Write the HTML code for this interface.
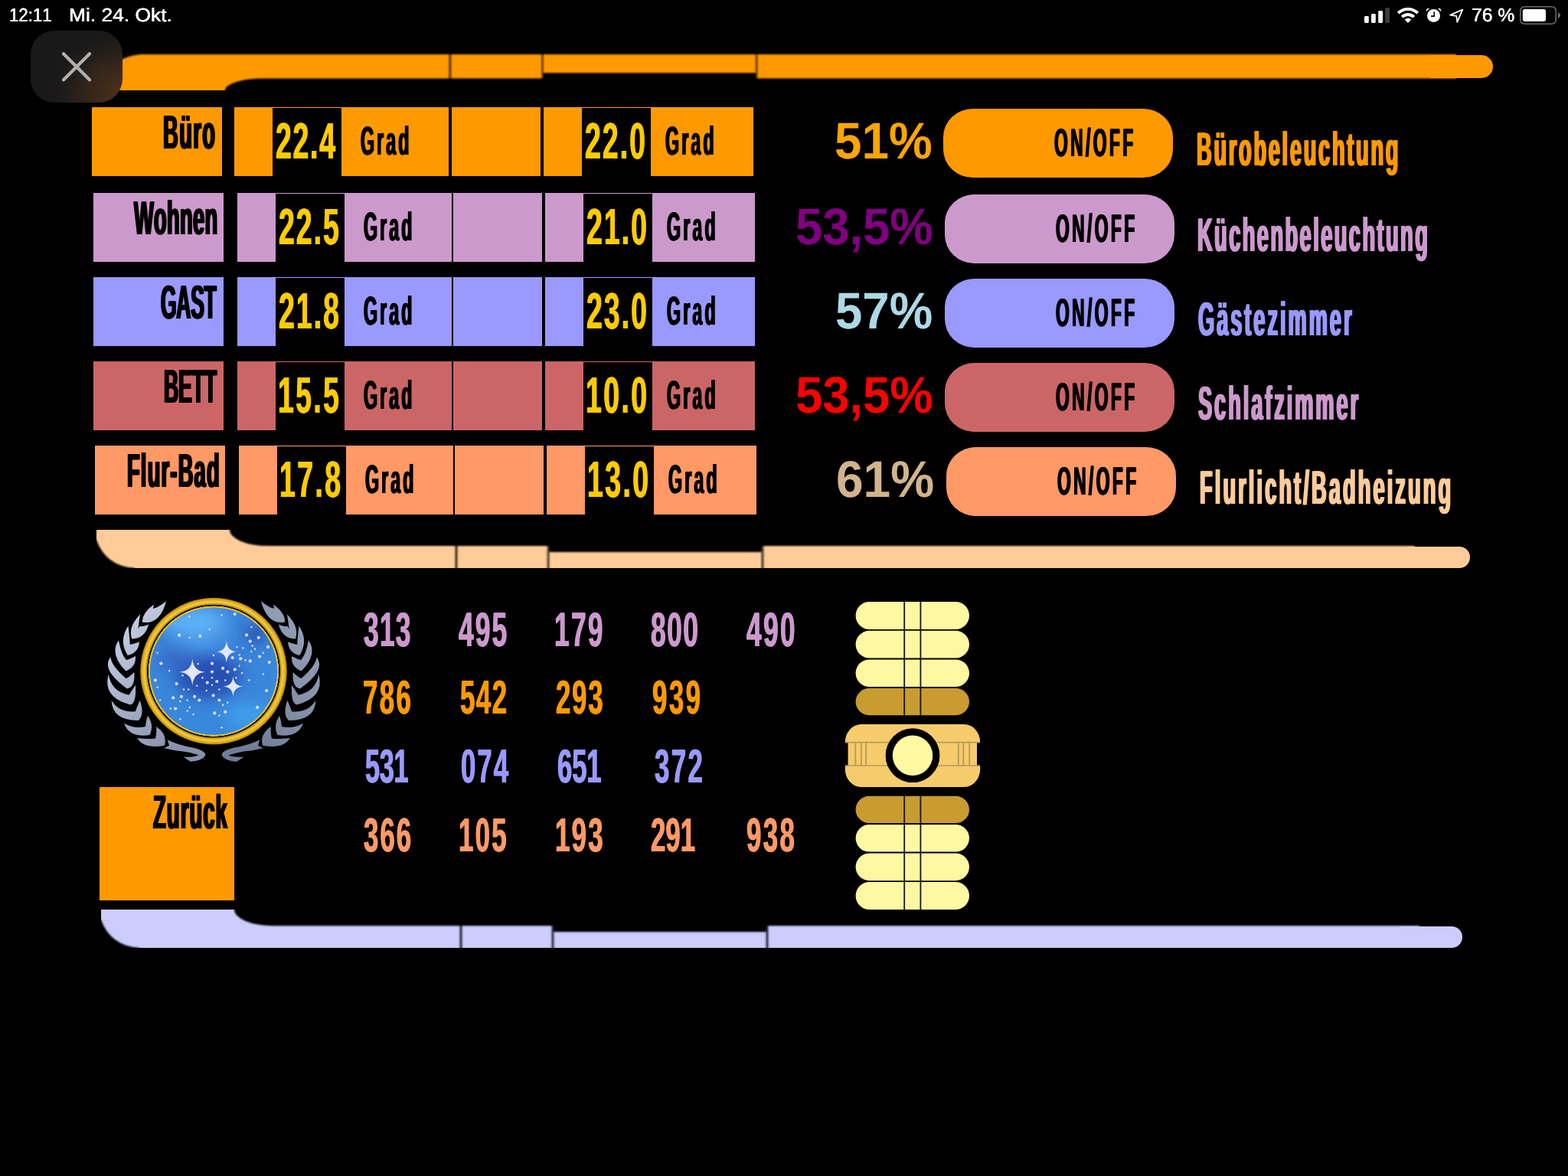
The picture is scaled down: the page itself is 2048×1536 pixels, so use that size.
<!DOCTYPE html>
<html lang="de"><head><meta charset="utf-8"><title>LCARS Haussteuerung</title>
<style>
html,body{margin:0;padding:0;background:#000}
body{width:2048px;height:1536px;position:relative;overflow:hidden;font-family:"Liberation Sans",sans-serif}
.b{position:absolute}
#tx{position:absolute;left:0;top:0;width:2048px;height:1536px;will-change:transform}
.t{position:absolute;white-space:nowrap;line-height:1;font-weight:bold;transform-origin:0 0;font-kerning:none;font-variant-ligatures:none;text-rendering:geometricPrecision}
.t.r{font-weight:normal}
svg{position:absolute;left:0;top:0;overflow:visible}
#close{position:absolute;left:40px;top:40px;width:120px;height:94px;border-radius:31px;background:radial-gradient(ellipse 95px 80px at 102% 88%,#50321a 0%,#3a281a 40%,#241e1a 75%,#191919 100%)}
</style></head>
<body>
<svg width="2048" height="1536" viewBox="0 0 2048 1536">
<defs><filter id="soft" x="-2%" y="-20%" width="104%" height="140%"><feGaussianBlur stdDeviation="0.8"/></filter></defs>
<clipPath id="c0"><rect x="134" y="66" width="2048" height="52"/></clipPath>
<g clip-path="url(#c0)"><g filter="url(#soft)"><path d="M130 122 L294 122 L294 118 A50 15.6 0 0 1 344 102.4 L586 102.4 L586 71 L184 71 Q146 73.8 134 107.8 L130 107.8 Z" fill="#ff9900"/><rect x="586" y="71" width="3.4" height="31.4" fill="#472b00"/><rect x="707.2" y="71" width="2.6" height="31.4" fill="#472b00"/><rect x="986.8" y="71" width="2.7" height="31.4" fill="#472b00"/><rect x="589.4" y="71" width="117.8" height="31.4" fill="#ff9900"/><rect x="709.8" y="71" width="277" height="24.2" fill="#ff9900"/><rect x="989.5" y="71" width="912.5" height="31.4" fill="#ff9900"/></g></g>
<path d="M1867.7 72 H1935 A15 15 0 0 1 1935 102 H1867.7 Z" fill="#ff9900"/>
<clipPath id="c1"><rect x="126" y="692" width="2048" height="50"/></clipPath>
<g clip-path="url(#c1)"><g filter="url(#soft)"><path d="M122 688 L300 688 L300 692 A50 21.1 0 0 0 350 713.1 L594.4 713.1 L594.4 746 L176 746 L176 742 Q138 739.2 126 705.2 L122 705.2 Z" fill="#ffcc99"/><rect x="594.4" y="713.1" width="3.4" height="32.9" fill="#3d2f20"/><rect x="714.5" y="713.1" width="3.2" height="32.9" fill="#3d2f20"/><rect x="994.3" y="713.1" width="3.3" height="32.9" fill="#3d2f20"/><rect x="597.8" y="713.1" width="116.7" height="32.9" fill="#ffcc99"/><rect x="717.7" y="721.1" width="276.6" height="24.9" fill="#ffcc99"/><rect x="997.6" y="713.1" width="850.4" height="32.9" fill="#ffcc99"/></g></g>
<path d="M1837.6 714 H1906 A14 14 0 0 1 1906 742 H1837.6 Z" fill="#ffcc99"/>
<clipPath id="c2"><rect x="132" y="1188" width="2048" height="50"/></clipPath>
<g clip-path="url(#c2)"><g filter="url(#soft)"><path d="M128 1184 L306 1184 L306 1188 A50 21.2 0 0 0 356 1209.2 L600.5 1209.2 L600.5 1242 L182 1242 L182 1238 Q144 1235.2 132 1201.2 L128 1201.2 Z" fill="#ccccff"/><rect x="600.5" y="1209.2" width="3.4" height="32.8" fill="#1e1e2a"/><rect x="720.2" y="1209.2" width="3.4" height="32.8" fill="#1e1e2a"/><rect x="1000.3" y="1209.2" width="3.5" height="32.8" fill="#1e1e2a"/><rect x="603.9" y="1209.2" width="116.3" height="32.8" fill="#ccccff"/><rect x="723.6" y="1217.2" width="276.7" height="24.8" fill="#ccccff"/><rect x="1003.8" y="1209.2" width="850.2" height="32.8" fill="#ccccff"/></g></g>
<path d="M1827.8 1210 H1896 A14 14 0 0 1 1896 1238 H1827.8 Z" fill="#ccccff"/>
</svg>
<div class="b" style="left:120px;top:140px;width:170px;height:90px;background:#ff9900"></div>
<div class="b" style="left:306px;top:140px;width:280px;height:90px;background:#ff9900"></div>
<div class="b" style="left:356px;top:141px;width:90px;height:89px;background:#000"></div>
<div class="b" style="left:590px;top:140px;width:116px;height:90px;background:#ff9900"></div>
<div class="b" style="left:710px;top:140px;width:274px;height:90px;background:#ff9900"></div>
<div class="b" style="left:760px;top:141px;width:90px;height:89px;background:#000"></div>
<div class="b" style="left:1232px;top:142px;width:300px;height:90px;background:#ff9900;border-radius:39px/37px"></div>
<div class="b" style="left:122px;top:252px;width:170px;height:90px;background:#cc99cc"></div>
<div class="b" style="left:310px;top:252px;width:280px;height:90px;background:#cc99cc"></div>
<div class="b" style="left:360px;top:253px;width:90px;height:89px;background:#000"></div>
<div class="b" style="left:592px;top:252px;width:116px;height:90px;background:#cc99cc"></div>
<div class="b" style="left:712px;top:252px;width:274px;height:90px;background:#cc99cc"></div>
<div class="b" style="left:762px;top:253px;width:90px;height:89px;background:#000"></div>
<div class="b" style="left:1234px;top:254px;width:300px;height:90px;background:#cc99cc;border-radius:39px/37px"></div>
<div class="b" style="left:122px;top:362px;width:170px;height:90px;background:#9999ff"></div>
<div class="b" style="left:310px;top:362px;width:280px;height:90px;background:#9999ff"></div>
<div class="b" style="left:360px;top:363px;width:90px;height:89px;background:#000"></div>
<div class="b" style="left:592px;top:362px;width:116px;height:90px;background:#9999ff"></div>
<div class="b" style="left:712px;top:362px;width:274px;height:90px;background:#9999ff"></div>
<div class="b" style="left:762px;top:363px;width:90px;height:89px;background:#000"></div>
<div class="b" style="left:1234px;top:364px;width:300px;height:90px;background:#9999ff;border-radius:39px/37px"></div>
<div class="b" style="left:122px;top:472px;width:170px;height:90px;background:#cc6666"></div>
<div class="b" style="left:310px;top:472px;width:280px;height:90px;background:#cc6666"></div>
<div class="b" style="left:360px;top:473px;width:90px;height:89px;background:#000"></div>
<div class="b" style="left:592px;top:472px;width:116px;height:90px;background:#cc6666"></div>
<div class="b" style="left:712px;top:472px;width:274px;height:90px;background:#cc6666"></div>
<div class="b" style="left:762px;top:473px;width:90px;height:89px;background:#000"></div>
<div class="b" style="left:1234px;top:474px;width:300px;height:90px;background:#cc6666;border-radius:39px/37px"></div>
<div class="b" style="left:124px;top:582px;width:170px;height:90px;background:#ff9966"></div>
<div class="b" style="left:312px;top:582px;width:280px;height:90px;background:#ff9966"></div>
<div class="b" style="left:362px;top:583px;width:90px;height:89px;background:#000"></div>
<div class="b" style="left:594px;top:582px;width:116px;height:90px;background:#ff9966"></div>
<div class="b" style="left:714px;top:582px;width:274px;height:90px;background:#ff9966"></div>
<div class="b" style="left:764px;top:583px;width:90px;height:89px;background:#000"></div>
<div class="b" style="left:1236px;top:584px;width:300px;height:90px;background:#ff9966;border-radius:39px/37px"></div>
<div class="b" style="left:130px;top:1028px;width:176px;height:148px;background:#ff9900"></div>
<svg width="2048" height="1536" viewBox="0 0 2048 1536">
<defs><linearGradient id="lfL" x1="0" y1="0" x2="0.6" y2="1"><stop offset="0" stop-color="#d3daee"/><stop offset="0.5" stop-color="#a9b3cb"/><stop offset="1" stop-color="#8690aa"/></linearGradient><linearGradient id="lfR" x1="1" y1="0" x2="0.4" y2="1"><stop offset="0" stop-color="#9aa4bd"/><stop offset="0.5" stop-color="#8792ab"/><stop offset="1" stop-color="#717c96"/></linearGradient><radialGradient id="gold" cx="279" cy="876.6" r="96" gradientUnits="userSpaceOnUse"><stop offset="0.868" stop-color="#e9c534"/><stop offset="0.885" stop-color="#e0b828"/><stop offset="0.888" stop-color="#1a1200"/><stop offset="0.902" stop-color="#1a1200"/><stop offset="0.908" stop-color="#b98c12"/><stop offset="0.94" stop-color="#f4cf3a"/><stop offset="0.97" stop-color="#e3b01f"/><stop offset="1" stop-color="#a87a0a"/></radialGradient><radialGradient id="sky" cx="262" cy="820" r="150" gradientUnits="userSpaceOnUse"><stop offset="0" stop-color="#52a2ee"/><stop offset="0.35" stop-color="#3a82d9"/><stop offset="1" stop-color="#388ade"/></radialGradient><clipPath id="disc"><circle cx="279" cy="876.6" r="83.2"/></clipPath><filter id="bl" x="-50%" y="-50%" width="200%" height="200%"><feGaussianBlur stdDeviation="9"/></filter></defs>
<path d="M201.1 789.5Q185.3 800.6 185.9 812.5Q208.5 816.8 217.1 785.2Q204.6 795.1 198.8 794.9Q194.4 816.3 201.1 789.5ZM183.1 802.3Q166.7 819.1 172.2 834.4Q189.4 834.4 194.1 815.6Q185 819.4 182.3 817.6Q178.7 829.8 183.1 802.3ZM167.5 817.6Q154.6 836.7 166.7 855.9Q181 852.9 182 838.3Q173.9 841.6 169.5 841.8Q170.2 840.3 167.5 817.6ZM155 836.3Q142.5 854.5 164.4 876.6Q178.4 870.7 176.9 857Q169.5 861.1 164.8 862.1Q157.9 853.9 155 836.3ZM144.5 858.2Q131.4 874.3 165.9 899.5Q176.9 897.7 175.3 878.1Q168.1 885.4 164.4 885.9Q145.1 869.2 144.5 858.2ZM141.7 880.8Q133.5 910.9 170.6 920.6Q178.4 917.9 176.9 894.8Q170.1 905.3 168.3 907.7Q145.6 903.4 141.7 880.8ZM145.6 914.8Q146.8 941.5 180.8 940.9Q189.2 933.7 182.7 914.8Q178.2 925.2 176.9 929.2Q155.4 931.2 145.6 914.8ZM162 944.8Q168.7 963.8 195.6 960.1Q201.7 947 192.9 934.7Q190.1 944.1 190.2 949.1Q175.1 952.3 162 944.8ZM179.2 964Q188 978.6 214.8 973.8Q219.3 959.5 204.2 949.1Q204.7 959.5 203 964.4Q194.9 966 179.2 964ZM218.7 966.3Q231.6 973 251.9 976.5Q268.3 980.2 268.3 986.2Q265.2 993.3 248.8 994.8L239.4 988.6Q251.9 989.4 259.7 986.6Q247.2 981.6 230 980.4L214.4 977.3L221 973.8Z" fill="url(#lfL)"/>
<path d="M356.9 789.5Q372.7 800.6 372.1 812.5Q349.5 816.8 340.9 785.2Q353.4 795.1 359.2 794.9Q363.6 816.3 356.9 789.5ZM374.9 802.3Q391.3 819.1 385.8 834.4Q368.6 834.4 363.9 815.6Q373 819.4 375.7 817.6Q379.3 829.8 374.9 802.3ZM390.5 817.6Q403.4 836.7 391.3 855.9Q377 852.9 376 838.3Q384.1 841.6 388.5 841.8Q387.8 840.3 390.5 817.6ZM403 836.3Q415.5 854.5 393.6 876.6Q379.6 870.7 381.1 857Q388.5 861.1 393.2 862.1Q400.1 853.9 403 836.3ZM413.5 858.2Q426.6 874.3 392.1 899.5Q381.1 897.7 382.7 878.1Q389.9 885.4 393.6 885.9Q412.9 869.2 413.5 858.2ZM416.3 880.8Q424.5 910.9 387.4 920.6Q379.6 917.9 381.1 894.8Q387.9 905.3 389.7 907.7Q412.4 903.4 416.3 880.8ZM412.4 914.8Q411.2 941.5 377.2 940.9Q368.8 933.7 375.3 914.8Q379.8 925.2 381.1 929.2Q402.6 931.2 412.4 914.8ZM396 944.8Q389.3 963.8 362.4 960.1Q356.3 947 365.1 934.7Q367.9 944.1 367.8 949.1Q382.9 952.3 396 944.8ZM378.8 964Q370 978.6 343.2 973.8Q338.7 959.5 353.8 949.1Q353.3 959.5 355 964.4Q363.1 966 378.8 964ZM339.3 966.3Q326.4 973 306.1 976.5Q289.7 980.2 289.7 986.2Q292.8 993.3 309.2 994.8L318.6 988.6Q306.1 989.4 298.3 986.6Q310.8 981.6 328 980.4L343.6 977.3L337 973.8Z" fill="url(#lfR)"/>
<circle cx="279" cy="876.6" r="95.8" fill="url(#gold)"/>
<circle cx="279" cy="876.6" r="83.2" fill="url(#sky)"/>
<g clip-path="url(#disc)"><g filter="url(#bl)"><ellipse cx="272" cy="884" rx="42" ry="28" fill="#2650b4"/><ellipse cx="232" cy="862" rx="26" ry="12" fill="#3568c8"/><ellipse cx="334" cy="828" rx="13" ry="10" fill="#2646a6"/><ellipse cx="250" cy="812" rx="40" ry="14" fill="#5cb2f6"/><ellipse cx="325" cy="935" rx="30" ry="16" fill="#3f9eec"/></g></g>
<g fill="#dcdcf4"><circle cx="234.1" cy="829.7" r="2.1"/><circle cx="261.4" cy="830.9" r="2.1"/><circle cx="306.7" cy="874.4" r="2.1"/><circle cx="277" cy="877.5" r="2.1"/><circle cx="283.3" cy="890" r="2.1"/><circle cx="278.6" cy="908.3" r="2.1"/><circle cx="260.3" cy="914.5" r="2.1"/><circle cx="294.2" cy="929.8" r="2.1"/><circle cx="226.2" cy="911.4" r="2.1"/><circle cx="350" cy="845" r="2.1"/><circle cx="339.2" cy="857.5" r="2.1"/><circle cx="351.7" cy="865" r="2.1"/><circle cx="348.1" cy="902" r="2.1"/><circle cx="202.8" cy="888.4" r="2.1"/><circle cx="210.3" cy="866.6" r="2.1"/><circle cx="291.1" cy="872.8" r="2.1"/><circle cx="326.7" cy="837.5" r="2.1"/><circle cx="322" cy="829.4" r="2.1"/><circle cx="270.8" cy="891.6" r="2.1"/><circle cx="236.9" cy="909.8" r="2.1"/><circle cx="254.1" cy="909.8" r="2.1"/><circle cx="314.2" cy="860.3" r="2.1"/><circle cx="303.6" cy="859.1" r="2.1"/><circle cx="297.3" cy="877.5" r="2.1"/><circle cx="277" cy="866.6" r="2.1"/><circle cx="337.7" cy="832.8" r="2.1"/><circle cx="326.7" cy="863.4" r="2.1"/><circle cx="230.6" cy="893.1" r="2.1"/><circle cx="286.4" cy="914.5" r="2.1"/><circle cx="280.2" cy="931.4" r="2.1"/><circle cx="229.1" cy="925.5" r="2.1"/><circle cx="336.1" cy="923.9" r="2.1"/><circle cx="306.7" cy="802" r="2.1"/><circle cx="247.3" cy="805.2" r="1.25"/><circle cx="289.5" cy="803.3" r="1.25"/><circle cx="273.9" cy="821.9" r="1.25"/><circle cx="328.3" cy="818.9" r="1.25"/><circle cx="247.8" cy="832.8" r="1.25"/><circle cx="329.8" cy="843.4" r="1.25"/><circle cx="333" cy="847.8" r="1.25"/><circle cx="309.5" cy="845" r="1.25"/><circle cx="317.3" cy="846.6" r="1.25"/><circle cx="328.3" cy="850.9" r="1.25"/><circle cx="343.9" cy="852.8" r="1.25"/><circle cx="205.6" cy="852.8" r="1.25"/><circle cx="278.9" cy="855.9" r="1.25"/><circle cx="320.5" cy="862.2" r="1.25"/><circle cx="312.7" cy="855.6" r="1.25"/><circle cx="258.6" cy="866.9" r="1.25"/><circle cx="312.7" cy="869.7" r="1.25"/><circle cx="316.1" cy="879.1" r="1.25"/><circle cx="221.2" cy="875.9" r="1.25"/><circle cx="238.4" cy="882.2" r="1.25"/><circle cx="264.5" cy="885.3" r="1.25"/><circle cx="277" cy="885.3" r="1.25"/><circle cx="294.2" cy="888.4" r="1.25"/><circle cx="308.3" cy="885.3" r="1.25"/><circle cx="325.2" cy="888.4" r="1.25"/><circle cx="343.9" cy="880.6" r="1.25"/><circle cx="205.6" cy="897.8" r="1.25"/><circle cx="257.2" cy="895.8" r="1.25"/><circle cx="277" cy="894.7" r="1.25"/><circle cx="240" cy="900.5" r="1.25"/><circle cx="246.2" cy="900.5" r="1.25"/><circle cx="269.7" cy="902" r="1.25"/><circle cx="286.4" cy="900.5" r="1.25"/><circle cx="209.1" cy="914.5" r="1.25"/><circle cx="235.3" cy="916.1" r="1.25"/><circle cx="244.7" cy="914.5" r="1.25"/><circle cx="297.3" cy="917.7" r="1.25"/><circle cx="291.1" cy="920.8" r="1.25"/><circle cx="222.8" cy="925.5" r="1.25"/><circle cx="247.8" cy="923.9" r="1.25"/><circle cx="244.7" cy="928.6" r="1.25"/><circle cx="252.5" cy="933" r="1.25"/><circle cx="286.4" cy="934.5" r="1.25"/><circle cx="235.3" cy="939.2" r="1.25"/><circle cx="289.5" cy="950.2" r="1.25"/></g>
<path d="M251.3 860.2C252.2 871.5 257.6 876.9 268.7 877.8C257.6 878.7 252.2 884.1 251.3 895.4C250.4 884.1 245 878.7 233.9 877.8C245 876.9 250.4 871.5 251.3 860.2ZM295.9 836.7C296.5 846 300.6 850.6 308.9 851.3C300.6 852 296.5 856.6 295.9 865.9C295.2 856.6 291.2 852 282.9 851.3C291.2 850.6 295.2 846 295.9 836.7ZM304.5 883.4C305.2 891.8 309.3 895.9 317.8 896.6C309.3 897.3 305.2 901.4 304.5 909.8C303.8 901.4 299.7 897.3 291.2 896.6C299.7 895.9 303.8 891.8 304.5 883.4Z" fill="#e6e6fa"/>
</svg>
<svg width="2048" height="1536" viewBox="0 0 2048 1536">
<rect x="1117.6" y="786" width="148.4" height="36" rx="18" fill="#fff8a3"/>
<rect x="1117.6" y="823.8" width="148.4" height="35.8" rx="17.9" fill="#fff8a3"/>
<rect x="1117.6" y="861.4" width="148.4" height="35.6" rx="17.8" fill="#fff8a3"/>
<rect x="1117.6" y="899" width="148.4" height="35.2" rx="17.6" fill="#c99c31"/>
<rect x="1117.6" y="1039.8" width="148.4" height="35.2" rx="17.6" fill="#c99c31"/>
<rect x="1117.6" y="1077" width="148.4" height="35.6" rx="17.8" fill="#fff8a3"/>
<rect x="1117.6" y="1114.4" width="148.4" height="35.8" rx="17.9" fill="#fff8a3"/>
<rect x="1117.6" y="1152" width="148.4" height="36" rx="18" fill="#fff8a3"/>
<rect x="1180.3" y="786" width="1.8" height="148.2" fill="#1a1405"/>
<rect x="1201.5" y="786" width="1.8" height="148.2" fill="#1a1405"/>
<rect x="1180.3" y="1039.8" width="1.8" height="148.2" fill="#1a1405"/>
<rect x="1201.5" y="1039.8" width="1.8" height="148.2" fill="#1a1405"/>
<path d="M1103.8 969.6 A21 23.6 0 0 1 1124.8 946 H1259.2 A21 23.6 0 0 1 1280.2 969.6 H1276 V1000.2 H1280.2 V1004.4 A21 23.6 0 0 1 1259.2 1028 H1124.8 A21 23.6 0 0 1 1103.8 1004.4 V1000.2 H1107.6 V969.6 Z" fill="#f6cb6b"/>
<path d="M1104 969.6 H1280 M1104 1000 H1280" stroke="#b59b5b" stroke-width="1.6" fill="none"/>
<rect x="1116.35" y="970" width="1.9" height="30" fill="#b89d5c"/>
<rect x="1123.95" y="970" width="1.9" height="30" fill="#b89d5c"/>
<rect x="1130.15" y="970" width="1.9" height="30" fill="#b89d5c"/>
<rect x="1250.85" y="970" width="1.9" height="30" fill="#b89d5c"/>
<rect x="1257.35" y="970" width="1.9" height="30" fill="#b89d5c"/>
<rect x="1265.25" y="970" width="1.9" height="30" fill="#b89d5c"/>
<circle cx="1192" cy="986.7" r="35.4" fill="#000"/>
<circle cx="1192" cy="986.7" r="26.2" fill="#fffaa2"/>
</svg>
<div id="tx">
<span class="t" style="left:213.47px;top:143px;font-size:62.06px;transform:scaleX(0.44);color:#000;letter-spacing:3.24px;text-shadow:2.27px 0,-2.27px 0">Büro</span>
<span class="t" style="left:360.15px;top:152px;font-size:66.76px;transform:scaleX(0.56);color:#ffcc00;letter-spacing:3.11px;text-shadow:0.8px 0,-0.8px 0">22.4</span>
<span class="t" style="left:470.65px;top:159px;font-size:52.62px;transform:scaleX(0.44);color:#000;letter-spacing:7.08px;text-shadow:1.59px 0,-1.59px 0">Grad</span>
<span class="t" style="left:764.15px;top:152px;font-size:66.76px;transform:scaleX(0.56);color:#ffcc00;letter-spacing:3.67px;text-shadow:0.8px 0,-0.8px 0">22.0</span>
<span class="t" style="left:868.75px;top:159px;font-size:52.62px;transform:scaleX(0.44);color:#000;letter-spacing:7.23px;text-shadow:1.59px 0,-1.59px 0">Grad</span>
<span class="t" style="left:1089.74px;top:151px;font-size:67.29px;transform:scaleX(0.9471);color:#ffa500">51%</span>
<span class="t" style="left:1376.97px;top:161px;font-size:51.74px;transform:scaleX(0.44);color:#000;letter-spacing:7.8px;text-shadow:1.59px 0,-1.59px 0">ON/OFF</span>
<span class="t" style="left:1562.58px;top:165px;font-size:61.92px;transform:scaleX(0.44);color:#ff9900;letter-spacing:6.16px;text-shadow:2.27px 0,-2.27px 0">Bürobeleuchtung</span>
<span class="t" style="left:174.77px;top:255px;font-size:62.06px;transform:scaleX(0.44);color:#000;letter-spacing:0.74px;text-shadow:2.27px 0,-2.27px 0">Wohnen</span>
<span class="t" style="left:364.15px;top:264px;font-size:66.76px;transform:scaleX(0.56);color:#ffcc00;letter-spacing:3.61px;text-shadow:0.8px 0,-0.8px 0">22.5</span>
<span class="t" style="left:474.65px;top:271px;font-size:52.62px;transform:scaleX(0.44);color:#000;letter-spacing:7.08px;text-shadow:1.59px 0,-1.59px 0">Grad</span>
<span class="t" style="left:766.15px;top:264px;font-size:66.76px;transform:scaleX(0.56);color:#ffcc00;letter-spacing:3.67px;text-shadow:0.8px 0,-0.8px 0">21.0</span>
<span class="t" style="left:870.75px;top:271px;font-size:52.62px;transform:scaleX(0.44);color:#000;letter-spacing:7.23px;text-shadow:1.59px 0,-1.59px 0">Grad</span>
<span class="t" style="left:1038.85px;top:263px;font-size:67.29px;transform:scaleX(0.942);color:#800080">53,5%</span>
<span class="t" style="left:1378.97px;top:273px;font-size:51.74px;transform:scaleX(0.44);color:#000;letter-spacing:7.8px;text-shadow:1.59px 0,-1.59px 0">ON/OFF</span>
<span class="t" style="left:1564.18px;top:277px;font-size:61.92px;transform:scaleX(0.44);color:#cc99cc;letter-spacing:5.54px;text-shadow:2.27px 0,-2.27px 0">Küchenbeleuchtung</span>
<span class="t" style="left:209.92px;top:365px;font-size:62.06px;transform:scaleX(0.4258);color:#000;letter-spacing:-0.5px;text-shadow:2.35px 0,-2.35px 0">GAST</span>
<span class="t" style="left:364.15px;top:374px;font-size:66.76px;transform:scaleX(0.56);color:#ffcc00;letter-spacing:3.68px;text-shadow:0.8px 0,-0.8px 0">21.8</span>
<span class="t" style="left:474.65px;top:381px;font-size:52.62px;transform:scaleX(0.44);color:#000;letter-spacing:7.08px;text-shadow:1.59px 0,-1.59px 0">Grad</span>
<span class="t" style="left:766.15px;top:374px;font-size:66.76px;transform:scaleX(0.56);color:#ffcc00;letter-spacing:3.67px;text-shadow:0.8px 0,-0.8px 0">23.0</span>
<span class="t" style="left:870.75px;top:381px;font-size:52.62px;transform:scaleX(0.44);color:#000;letter-spacing:7.23px;text-shadow:1.59px 0,-1.59px 0">Grad</span>
<span class="t" style="left:1091.45px;top:373px;font-size:67.29px;transform:scaleX(0.944);color:#add8e6">57%</span>
<span class="t" style="left:1378.97px;top:383px;font-size:51.74px;transform:scaleX(0.44);color:#000;letter-spacing:7.8px;text-shadow:1.59px 0,-1.59px 0">ON/OFF</span>
<span class="t" style="left:1564.88px;top:387px;font-size:61.92px;transform:scaleX(0.44);color:#9999ff;letter-spacing:6.69px;text-shadow:2.27px 0,-2.27px 0">Gästezimmer</span>
<span class="t" style="left:213.51px;top:475px;font-size:62.06px;transform:scaleX(0.4309);color:#000;letter-spacing:-0.5px;text-shadow:2.32px 0,-2.32px 0">BETT</span>
<span class="t" style="left:363.1px;top:484px;font-size:66.76px;transform:scaleX(0.56);color:#ffcc00;letter-spacing:4.24px;text-shadow:0.8px 0,-0.8px 0">15.5</span>
<span class="t" style="left:474.65px;top:491px;font-size:52.62px;transform:scaleX(0.44);color:#000;letter-spacing:7.08px;text-shadow:1.59px 0,-1.59px 0">Grad</span>
<span class="t" style="left:765.1px;top:484px;font-size:66.76px;transform:scaleX(0.56);color:#ffcc00;letter-spacing:4.3px;text-shadow:0.8px 0,-0.8px 0">10.0</span>
<span class="t" style="left:870.75px;top:491px;font-size:52.62px;transform:scaleX(0.44);color:#000;letter-spacing:7.23px;text-shadow:1.59px 0,-1.59px 0">Grad</span>
<span class="t" style="left:1038.85px;top:483px;font-size:67.29px;transform:scaleX(0.942);color:#ff0000">53,5%</span>
<span class="t" style="left:1378.97px;top:493px;font-size:51.74px;transform:scaleX(0.44);color:#000;letter-spacing:7.8px;text-shadow:1.59px 0,-1.59px 0">ON/OFF</span>
<span class="t" style="left:1565.22px;top:497px;font-size:61.92px;transform:scaleX(0.44);color:#cc99cc;letter-spacing:6.62px;text-shadow:2.27px 0,-2.27px 0">Schlafzimmer</span>
<span class="t" style="left:165.57px;top:585px;font-size:62.06px;transform:scaleX(0.44);color:#000;letter-spacing:2.72px;text-shadow:2.27px 0,-2.27px 0">Flur-Bad</span>
<span class="t" style="left:365.1px;top:594px;font-size:66.76px;transform:scaleX(0.56);color:#ffcc00;letter-spacing:4.31px;text-shadow:0.8px 0,-0.8px 0">17.8</span>
<span class="t" style="left:476.65px;top:601px;font-size:52.62px;transform:scaleX(0.44);color:#000;letter-spacing:7.08px;text-shadow:1.59px 0,-1.59px 0">Grad</span>
<span class="t" style="left:767.1px;top:594px;font-size:66.76px;transform:scaleX(0.56);color:#ffcc00;letter-spacing:4.3px;text-shadow:0.8px 0,-0.8px 0">13.0</span>
<span class="t" style="left:872.75px;top:601px;font-size:52.62px;transform:scaleX(0.44);color:#000;letter-spacing:7.23px;text-shadow:1.59px 0,-1.59px 0">Grad</span>
<span class="t" style="left:1092.36px;top:593px;font-size:67.29px;transform:scaleX(0.9515);color:#d2b48c">61%</span>
<span class="t" style="left:1380.97px;top:603px;font-size:51.74px;transform:scaleX(0.44);color:#000;letter-spacing:7.8px;text-shadow:1.59px 0,-1.59px 0">ON/OFF</span>
<span class="t" style="left:1566.68px;top:607px;font-size:61.92px;transform:scaleX(0.44);color:#ffcc99;letter-spacing:7.03px;text-shadow:2.27px 0,-2.27px 0">Flurlicht/Badheizung</span>
<span class="t" style="left:199.78px;top:1030px;font-size:62.5px;transform:scaleX(0.44);color:#000;letter-spacing:2.37px;text-shadow:2.27px 0,-2.27px 0">Zurück</span>
<span class="t" style="left:474.64px;top:792px;font-size:63.18px;transform:scaleX(0.56);color:#cc99cc;letter-spacing:2.2px;text-shadow:0.8px 0,-0.8px 0">313</span>
<span class="t" style="left:598.71px;top:792px;font-size:63.18px;transform:scaleX(0.56);color:#cc99cc;letter-spacing:3.65px;text-shadow:0.8px 0,-0.8px 0">495</span>
<span class="t" style="left:724.22px;top:792px;font-size:63.18px;transform:scaleX(0.56);color:#cc99cc;letter-spacing:4.03px;text-shadow:0.8px 0,-0.8px 0">179</span>
<span class="t" style="left:850.33px;top:792px;font-size:63.18px;transform:scaleX(0.56);color:#cc99cc;letter-spacing:2.63px;text-shadow:0.8px 0,-0.8px 0">800</span>
<span class="t" style="left:974.91px;top:792px;font-size:63.18px;transform:scaleX(0.56);color:#cc99cc;letter-spacing:4.07px;text-shadow:0.8px 0,-0.8px 0">490</span>
<span class="t" style="left:473.96px;top:881px;font-size:62.03px;transform:scaleX(0.56);color:#ff9900;letter-spacing:4.36px;text-shadow:0.8px 0,-0.8px 0">786</span>
<span class="t" style="left:600.88px;top:881px;font-size:62.03px;transform:scaleX(0.56);color:#ff9900;letter-spacing:2.77px;text-shadow:0.8px 0,-0.8px 0">542</span>
<span class="t" style="left:726.25px;top:881px;font-size:62.03px;transform:scaleX(0.56);color:#ff9900;letter-spacing:3.21px;text-shadow:0.8px 0,-0.8px 0">293</span>
<span class="t" style="left:852.25px;top:881px;font-size:62.03px;transform:scaleX(0.56);color:#ff9900;letter-spacing:4.49px;text-shadow:0.8px 0,-0.8px 0">939</span>
<span class="t" style="left:476.9px;top:971px;font-size:62.03px;transform:scaleX(0.5512);color:#9999ff;letter-spacing:-0.5px;text-shadow:0.82px 0,-0.82px 0">531</span>
<span class="t" style="left:602.08px;top:971px;font-size:62.03px;transform:scaleX(0.56);color:#9999ff;letter-spacing:3.66px;text-shadow:0.8px 0,-0.8px 0">074</span>
<span class="t" style="left:728.18px;top:971px;font-size:62.03px;transform:scaleX(0.56);color:#9999ff;letter-spacing:-0.29px;text-shadow:0.8px 0,-0.8px 0">651</span>
<span class="t" style="left:854.65px;top:971px;font-size:62.03px;transform:scaleX(0.56);color:#9999ff;letter-spacing:4.31px;text-shadow:0.8px 0,-0.8px 0">372</span>
<span class="t" style="left:474.65px;top:1061px;font-size:62.18px;transform:scaleX(0.56);color:#ff9966;letter-spacing:3.63px;text-shadow:0.8px 0,-0.8px 0">366</span>
<span class="t" style="left:599.26px;top:1061px;font-size:62.18px;transform:scaleX(0.56);color:#ff9966;letter-spacing:3.99px;text-shadow:0.8px 0,-0.8px 0">105</span>
<span class="t" style="left:725.26px;top:1061px;font-size:62.18px;transform:scaleX(0.56);color:#ff9966;letter-spacing:3.98px;text-shadow:0.8px 0,-0.8px 0">193</span>
<span class="t" style="left:850.24px;top:1061px;font-size:62.18px;transform:scaleX(0.56);color:#ff9966;letter-spacing:-0.02px;text-shadow:0.8px 0,-0.8px 0">291</span>
<span class="t" style="left:975.24px;top:1061px;font-size:62.18px;transform:scaleX(0.56);color:#ff9966;letter-spacing:4.27px;text-shadow:0.8px 0,-0.8px 0">938</span>
<span class="t r" style="left:11.81px;top:9px;font-size:24.78px;transform:scaleX(0.8978);color:#fff;text-shadow:0.22px 0,-0.22px 0">12:11</span>
<span class="t r" style="left:89.74px;top:9px;font-size:24.78px;transform:scaleX(1.0645);color:#fff;text-shadow:0.19px 0,-0.19px 0">Mi. 24. Okt.</span>
<span class="t r" style="left:1922.03px;top:9px;font-size:24.78px;transform:scaleX(0.9976);color:#fff;text-shadow:0.2px 0,-0.2px 0">76 %</span>
</div>
<div id="close"><svg width="120" height="94" viewBox="0 0 120 94"><path d="M43 30.2 L77 64.2 M77 30.2 L43 64.2" stroke="#b4aeaa" stroke-width="4.3" stroke-linecap="round" fill="none"/></svg></div>
<svg width="2048" height="40" viewBox="0 0 2048 40">
<rect x="1782" y="21" width="5.8" height="9" rx="1.4" fill="#fff"/>
<rect x="1791" y="18" width="5.8" height="12" rx="1.4" fill="#fff"/>
<rect x="1800.2" y="14" width="5.8" height="16" rx="1.4" fill="#fff"/>
<rect x="1809.2" y="10" width="5.8" height="20" rx="1.4" fill="#3c3c3c"/>
<g transform="translate(1839 29.9)" fill="none" stroke="#fff" stroke-width="3.9"><path d="M-12.76 -12.76 A18.05 18.05 0 0 1 12.76 -12.76"/><path d="M-7.74 -7.74 A10.95 10.95 0 0 1 7.74 -7.74"/><path d="M0 0 L-4.3 -4.3 A6.1 6.1 0 0 1 4.3 -4.3 Z" fill="#fff" stroke="none"/></g>
<g transform="translate(1872.5 20.4)"><circle r="8.5" fill="#fff"/><path d="M0.75 -5.2 V0.75 H-3.5" stroke="#000" stroke-width="1.6" fill="none"/><path d="M-9.6 -5.2 L-9.55 -7.7 Q-9.3 -9.3 -7.6 -9.35 L-5.2 -9.2 A10.6 10.6 0 0 0 -9.6 -5.2 Z" fill="#fff"/><path d="M9.6 -5.2 L9.55 -7.7 Q9.3 -9.3 7.6 -9.35 L5.2 -9.2 A10.6 10.6 0 0 1 9.6 -5.2 Z" fill="#fff"/></g>
<path d="M1910.3 12.6 L1894.1 19.6 L1902.3 20.8 L1903.3 28.9 Z" fill="none" stroke="#fff" stroke-width="1.8" stroke-linejoin="round"/>
<rect x="1985.8" y="8.8" width="46.4" height="22.4" rx="5.2" fill="none" stroke="#6a6a6a" stroke-width="1.6"/>
<rect x="1988.8" y="12" width="30.2" height="16" rx="2.4" fill="#fff"/>
<path d="M2035 16.2 Q2038.2 17.6 2038.2 20 Q2038.2 22.4 2035 23.8 Z" fill="#6a6a6a"/>
</svg>
</body></html>
